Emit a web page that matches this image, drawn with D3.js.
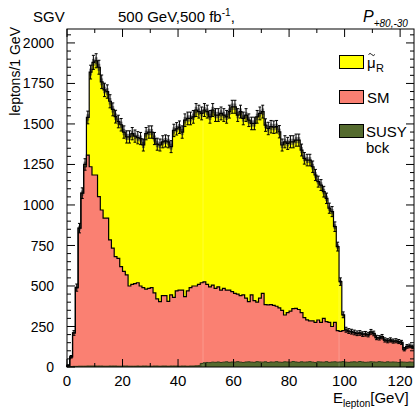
<!DOCTYPE html>
<html>
<head>
<meta charset="utf-8">
<script src="https://d3js.org/d3.v7.min.js"></script>
<style>
  html, body { margin: 0; padding: 0; background: #fff; }
  svg text { font-family: 'Liberation Sans', Arial, Helvetica, sans-serif; fill: #000; }
</style>
</head>
<body>
<svg id="chart" width="416" height="409"></svg>
<script>
// stack heights per 1 GeV bin (0..125 GeV)
const totalTop = [10,63,210,490,857,1073,1250,1540,1820,1880,
  1890,1850,1760,1710,1700,1640,1590,1545,1515,1495,
  1450,1420,1420,1440,1425,1415,1410,1370,1440,1450,
  1450,1410,1375,1370,1390,1395,1390,1360,1460,1470,
  1480,1450,1523,1534,1534,1544,1586,1576,1565,1586,
  1576,1544,1586,1555,1555,1565,1555,1544,1576,1606,
  1606,1555,1576,1534,1555,1523,1503,1503,1544,1565,
  1576,1493,1472,1483,1480,1483,1452,1370,1390,1380,
  1390,1390,1400,1400,1339,1288,1277,1277,1236,1185,
  1144,1123,1082,1041,980,959,866,743,527,322,
  230,222,218,213,208,210,203,205,200,217,
  207,182,180,187,167,162,167,160,162,157,
  152,110,127,130,124];
const smTop = [10,63,210,490,857,1073,1236,1308,1236,1185,
  1185,1051,969,919,919,784,734,681,670,620,
  590,568,500,510,515,520,500,490,480,485,
  490,457,420,403,440,440,405,445,430,470,
  475,475,434,470,490,500,500,510,520,525,
  510,495,505,485,495,475,485,475,475,465,
  455,450,440,445,425,403,445,410,400,425,
  455,385,383,385,380,375,365,350,321,335,
  345,360,362,355,335,305,291,285,285,275,
  290,275,300,280,275,250,275,225,220,225,
  225,218,215,210,205,207,200,202,197,214,
  204,179,177,184,164,159,164,157,159,154,
  149,107,124,127,121];
const susyBck = [2,3,4,4,5,5,5,6,6,6, 6,6,6,5,5,6,6,6,5,5,
  6,6,5,5,5,6,5,6,6,5, 5,6,6,5,6,6,5,6,6,6, 5,6,6,5,6,6,7,8,
  22,26,28,27,30,29,31,28,30,32, 29,31,30,33,30,28,31,32,30,29,
  33,31,30,32,28,31, 30,
  33,30,29,32, 31,30,34,31,29,32,30,31,33,30,
  28,32,31,30,33,29,31,32,30,31, 33,30,29,31,32,30,34,31,29,30,
  32,31,30,33,31,29,32,30,31,30, 28,31,30,29,31,30];

const yTicks = [0, 250, 500, 750, 1000, 1250, 1500, 1750, 2000];
const xTicks = [0, 20, 40, 60, 80, 100, 120];
const legendColors = ['#ffff00', '#fa8072', '#556b2f'];
const seamBins = [49, 98];

const xMax = 125, yMax = 2086;
const svg = d3.select('#chart');
const x = d3.scaleLinear().domain([0, xMax]).range([67, 414]);
const y = d3.scaleLinear().domain([0, yMax]).range([367, 29]);

const pts = arr => arr.map((v, i) => [i, v]).concat([[xMax, arr[arr.length - 1]]]);
const area = d3.area().curve(d3.curveStepAfter).x(d => x(d[0])).y0(y(0)).y1(d => y(d[1]));
const line = d3.line().curve(d3.curveStepAfter).x(d => x(d[0])).y(d => y(d[1]));

const plot = svg.append('g');
plot.append('path').attr('d', area(pts(totalTop))).attr('fill', '#ffff00');
plot.append('path').attr('d', area(pts(smTop))).attr('fill', '#fa8072');
plot.append('path').attr('d', area(pts(susyBck))).attr('fill', '#556b2f');

// faint seams seen in the fills
seamBins.forEach(b => {
  plot.append('line').attr('x1', x(b)).attr('x2', x(b)).attr('y1', y(0)).attr('y2', y(totalTop[b]))
    .attr('stroke', '#fff').attr('stroke-opacity', 0.3).attr('stroke-width', 0.7);
});

plot.append('path').attr('d', line([[0, 0]].concat(pts(susyBck)))).attr('fill', 'none').attr('stroke', '#2d3a18').attr('stroke-width', 1);
plot.append('path').attr('d', line([[0, 0]].concat(pts(smTop)))).attr('fill', 'none').attr('stroke', '#000').attr('stroke-width', 1.2);

// error band + bars on the total
const bins = totalTop.map((v, i) => ({ i, v, e: Math.sqrt(v) }));
plot.append('g').selectAll('rect').data(bins).join('rect')
  .attr('x', d => x(d.i)).attr('width', d => x(d.i + 1) - x(d.i))
  .attr('y', d => y(d.v + d.e * 0.5)).attr('height', d => y(d.v - d.e * 0.5) - y(d.v + d.e * 0.5))
  .attr('fill', '#555').attr('opacity', 0.7);
plot.append('path').attr('d', line([[0, 0]].concat(pts(totalTop)))).attr('fill', 'none').attr('stroke', '#000').attr('stroke-width', 1.2);
const eb = plot.append('g').attr('stroke', '#000').attr('stroke-width', 1);
bins.forEach(d => {
  const cx = x(d.i + 0.5);
  eb.append('line').attr('x1', cx).attr('x2', cx).attr('y1', y(d.v - d.e)).attr('y2', y(d.v + d.e));
  eb.append('line').attr('x1', cx - 1.5).attr('x2', cx + 1.5).attr('y1', y(d.v + d.e)).attr('y2', y(d.v + d.e));
  eb.append('line').attr('x1', cx - 1.5).attr('x2', cx + 1.5).attr('y1', y(d.v - d.e)).attr('y2', y(d.v - d.e));
});

// frame and ticks
svg.append('rect').attr('x', 67).attr('y', 29).attr('width', 347).attr('height', 338)
  .attr('fill', 'none').attr('stroke', '#000').attr('stroke-width', 1);
const tk = svg.append('g').attr('stroke', '#000').attr('stroke-width', 1);
d3.range(0, yMax, 50).forEach(v => {
  const len = v % 250 === 0 ? 8 : 4;
  tk.append('line').attr('x1', 67).attr('x2', 67 + len).attr('y1', y(v)).attr('y2', y(v));
  tk.append('line').attr('x1', 414).attr('x2', 414 - len).attr('y1', y(v)).attr('y2', y(v));
});
d3.range(0, xMax, 10).forEach(v => {
  const len = v % 20 === 0 ? 8 : 4;
  tk.append('line').attr('x1', x(v)).attr('x2', x(v)).attr('y1', 367).attr('y2', 367 - len);
  tk.append('line').attr('x1', x(v)).attr('x2', x(v)).attr('y1', 29).attr('y2', 29 + len);
});

svg.append('g').selectAll('text').data(yTicks).join('text')
  .attr('x', 54).attr('y', d => y(d)).attr('dy', '0.36em').attr('text-anchor', 'end')
  .attr('font-size', 14).text(d => d);
svg.append('g').selectAll('text').data(xTicks).join('text')
  .attr('x', d => x(d)).attr('y', 386).attr('text-anchor', 'middle')
  .attr('font-size', 15).text(d => d);

// titles
svg.append('text').attr('x', 33).attr('y', 22).attr('font-size', 15).text('SGV');
const t = svg.append('text').attr('x', 118).attr('y', 22).attr('font-size', 15);
t.append('tspan').text('500 GeV,500 fb');
t.append('tspan').attr('font-size', 10).attr('dy', -6).text('-1');
t.append('tspan').attr('dy', 6).text(',');
const p = svg.append('text').attr('x', 363).attr('y', 22).attr('font-size', 16).attr('font-style', 'italic');
p.append('tspan').text('P');
p.append('tspan').attr('font-size', 10).attr('dy', 5).text('+80,-30');

svg.append('text').attr('transform', 'translate(20,27) rotate(-90)').attr('text-anchor', 'end')
  .attr('font-size', 14).text('leptons/1 GeV');

const xl = svg.append('text').attr('x', 333).attr('y', 403).attr('font-size', 15);
xl.append('tspan').text('E');
xl.append('tspan').attr('font-size', 10).attr('dy', 4).text('lepton');
xl.append('tspan').attr('dy', -4).text('[GeV]');

// legend
const lg = svg.append('g');
[55, 90, 124].forEach((yy, k) => {
  lg.append('rect').attr('x', 339.5).attr('y', yy + 0.5).attr('width', 24).attr('height', 13)
    .attr('fill', legendColors[k]).attr('stroke', '#000').attr('stroke-width', 1);
});
lg.append('text').attr('x', 367).attr('y', 68).attr('font-size', 15).text('μ');
lg.append('path').attr('d', 'M368.5,54.5 q1.6,-2.2 3.2,0 t3.2,0').attr('fill', 'none').attr('stroke', '#000').attr('stroke-width', 0.9);
lg.append('text').attr('x', 376).attr('y', 72).attr('font-size', 11).text('R');
lg.append('text').attr('x', 367).attr('y', 103).attr('font-size', 15).text('SM');
lg.append('text').attr('x', 366).attr('y', 137).attr('font-size', 15).text('SUSY');
lg.append('text').attr('x', 366).attr('y', 153).attr('font-size', 15).text('bck');
</script>
</body>
</html>
